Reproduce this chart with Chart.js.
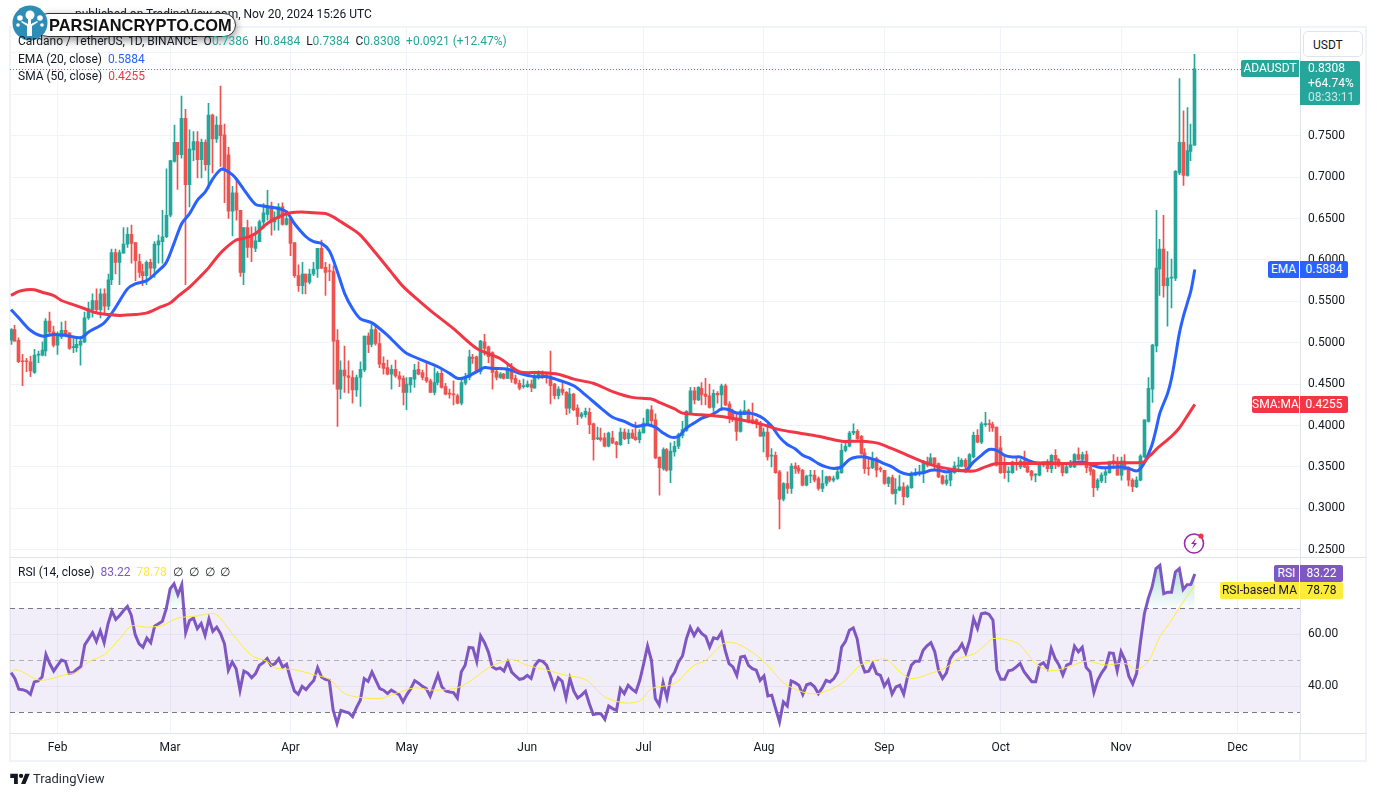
<!DOCTYPE html>
<html>
<head>
<meta charset="utf-8">
<title>ADAUSDT</title>
<script src="https://cdn.jsdelivr.net/npm/chart.js@4"></script>
<style>
  html, body { margin: 0; padding: 0; background: #fff; }
  body { width: 1377px; height: 796px; position: relative; overflow: hidden; font-family: Roboto, sans-serif; font-size: 12px; color: #131722; }
  canvas { position: absolute; left: 0; top: 0; }
  .t { position: absolute; white-space: pre; line-height: 17px; }
  .tag { position: absolute; height: 17px; line-height: 17px; color: #fff; white-space: pre; text-align: center; }
  #frame { position: absolute; left: 9px; top: 26px; width: 1354px; height: 732px; border: 2px solid #f0f3fa; }
  #usdt { position: absolute; left: 1303px; top: 31px; width: 60px; height: 26px; line-height: 26px; border: 1px solid #e0e3eb; border-radius: 5px; box-sizing: border-box; padding-left: 9px; background: #fff; }
  #pill { position: absolute; left: 36px; top: 13px; width: 200px; height: 24px; line-height: 23px; background: #fff; border: 1px solid #333; border-radius: 12px; box-sizing: border-box; padding-left: 12px; font-family: "Liberation Sans", sans-serif; font-size: 16.4px; font-weight: bold; color: #111; white-space: pre; box-shadow: 0 3px 9px rgba(0,0,0,.45); }
</style>
</head>
<body>
<div id="frame"></div>
<canvas id="adaChart" width="1377" height="796"></canvas>

<div class="t" style="left:75px;top:6px;color:#131722">published on TradingView.com, Nov 20, 2024 15:26 UTC</div>
<div id="pill">PARSIANCRYPTO.COM</div>
<svg style="position:absolute;left:12px;top:5px" width="36" height="36" viewBox="0 0 36 36">
  <circle cx="18" cy="18" r="17.5" fill="#2e8db5"/>
  <path d="M15 31V21l-6-4 1-1 6 3 0-6h3l0 6 6-3 1 1-6 4v10z" fill="#fff"/>
  <circle cx="18" cy="10" r="4.5" fill="#fff"/><circle cx="8" cy="13" r="2.8" fill="#fff"/><circle cx="28" cy="13" r="2.8" fill="#fff"/><circle cx="6" cy="20" r="1.8" fill="#fff"/><circle cx="30" cy="20" r="1.8" fill="#fff"/>
</svg>

<div class="t" style="left:18px;top:33px">Cardano / TetherUS, 1D, BINANCE  O<span style="color:#26a69a">0.7386</span>  H<span style="color:#26a69a">0.8484</span>  L<span style="color:#26a69a">0.7384</span>  C<span style="color:#26a69a">0.8308  +0.0921 (+12.47%)</span></div>
<div class="t" style="left:18px;top:51px">EMA (20, close)  <span style="color:#2962ff">0.5884</span></div>
<div class="t" style="left:18px;top:68px">SMA (50, close)  <span style="color:#f23645">0.4255</span></div>
<div class="t" style="left:18px;top:564px">RSI (14, close)  <span style="color:#7e57c2">83.22</span>  <span style="color:#ffeb3b">78.78</span>  ∅  ∅  ∅  ∅</div>

<div id="usdt">USDT</div>
<div class="tag" style="left:1241px;top:60px;width:58px;background:#26a69a;border-radius:2px 0 0 2px">ADAUSDT</div>
<div class="tag" style="left:1300px;top:61px;width:60px;height:44px;background:#26a69a;text-align:left;padding-left:8px;box-sizing:border-box;line-height:14.5px;border-radius:0 2px 2px 0">0.8308
+64.74%
<span style="color:#c8e8e4">08:33:11</span></div>
<div class="tag" style="left:1268px;top:261px;width:31px;background:#2962ff;border-radius:2px 0 0 2px">EMA</div>
<div class="tag" style="left:1300px;top:261px;width:48px;background:#2962ff;border-radius:0 2px 2px 0">0.5884</div>
<div class="tag" style="left:1252px;top:396px;width:47px;background:#f23645;border-radius:2px 0 0 2px">SMA:MA</div>
<div class="tag" style="left:1300px;top:396px;width:48px;background:#f23645;border-radius:0 2px 2px 0">0.4255</div>
<div class="tag" style="left:1274px;top:565px;width:25px;background:#7e57c2;border-radius:2px 0 0 2px">RSI</div>
<div class="tag" style="left:1300px;top:565px;width:43px;background:#7e57c2;border-radius:0 2px 2px 0">83.22</div>
<div class="tag" style="left:1220px;top:582px;width:79px;background:#ffeb3b;color:#131722;border-radius:2px 0 0 2px">RSI-based MA</div>
<div class="tag" style="left:1300px;top:582px;width:43px;background:#ffeb3b;color:#131722;border-radius:0 2px 2px 0">78.78</div>

<svg style="position:absolute;left:1182px;top:531px" width="26" height="26" viewBox="0 0 26 26">
  <circle cx="12" cy="12.5" r="9.5" fill="#fff" stroke="#9c27b0" stroke-width="1.6"/>
  <path d="M14 7l-5 6h3l-2 5 5-6h-3z" fill="#9c27b0"/>
  <circle cx="19" cy="5" r="2.6" fill="#f23645"/>
</svg>

<svg style="position:absolute;left:10px;top:772px" width="20" height="13" viewBox="0 0 36 24" fill="#131722">
  <path d="M14 22H7V11H0V3h14zM28 22h-8l7.5-19H36z"/><circle cx="20" cy="7" r="4"/>
</svg>
<div class="t" style="left:33px;top:770px;font-size:13px;color:#2a2e39">TradingView</div>

<script>
// daily candles, index 0 = Jan 20 2024, last = Nov 20 2024
const opens = [
  .503,.516,.503,.478,.478,.477,.464,.485,.485,.490,
  .526,.513,.497,.507,.515,.512,.494,.494,.497,.501,
  .530,.540,.551,.540,.559,.544,.576,.609,.597,.608,
  .619,.631,.621,.598,.586,.581,.597,.590,.618,.622,
  .628,.654,.719,.742,.727,.771,.691,.733,.743,.721,
  .742,.715,.775,.746,.763,.751,.727,.659,.681,.660,
  .585,.639,.628,.614,.622,.646,.655,.665,.646,.650,
  .664,.643,.650,.621,.581,.569,.583,.573,.583,.589,
  .614,.591,.587,.586,.503,.444,.467,.460,.458,.443,
  .458,.467,.508,.498,.516,.499,.475,.470,.462,.468,
  .460,.457,.440,.449,.456,.468,.464,.458,.454,.440,
  .452,.463,.447,.439,.438,.436,.427,.451,.458,.482,
  .483,.465,.501,.495,.488,.465,.458,.462,.457,.468,
  .457,.451,.447,.447,.450,.445,.458,.462,.461,.460,
  .450,.436,.444,.440,.421,.438,.421,.411,.413,.416,
  .402,.384,.385,.385,.375,.385,.380,.377,.392,.384,
  .391,.386,.383,.391,.402,.419,.407,.362,.348,.371,
  .346,.368,.375,.388,.394,.413,.442,.431,.445,.438,
  .436,.422,.439,.437,.448,.426,.416,.409,.393,.413,
  .418,.407,.407,.403,.387,.392,.363,.364,.344,.311,
  .330,.324,.351,.349,.346,.328,.339,.340,.336,.324,
  .330,.338,.334,.336,.343,.370,.375,.391,.393,.387,
  .367,.349,.349,.360,.348,.346,.330,.337,.318,.322,
  .326,.314,.325,.340,.342,.342,.356,.352,.361,.354,
  .339,.330,.334,.343,.351,.351,.358,.350,.362,.388,
  .380,.401,.402,.401,.398,.373,.354,.343,.343,.355,
  .350,.357,.351,.345,.340,.340,.352,.354,.348,.364,
  .359,.352,.343,.350,.350,.365,.359,.365,.350,.346,
  .325,.333,.340,.343,.357,.356,.340,.357,.349,.334,
  .326,.334,.362,.405,.444,.496,.589,.613,.569,.578,
  .578,.705,.742,.702,.731,.7386
];
const highs = [
  .517,.521,.506,.486,.481,.484,.492,.490,.501,.529,
  .537,.520,.513,.525,.526,.512,.505,.505,.507,.537,
  .549,.559,.565,.565,.565,.583,.613,.613,.612,.639,
  .639,.642,.621,.607,.595,.599,.601,.622,.630,.660,
  .710,.720,.763,.742,.798,.782,.757,.755,.755,.746,
  .745,.789,.776,.773,.810,.764,.736,.689,.699,.660,
  .639,.648,.640,.640,.648,.668,.684,.670,.658,.668,
  .669,.654,.650,.621,.594,.597,.583,.589,.597,.614,
  .624,.597,.595,.593,.516,.478,.496,.478,.466,.461,
  .477,.508,.512,.522,.521,.512,.483,.479,.473,.479,
  .465,.460,.458,.458,.474,.477,.467,.475,.456,.470,
  .465,.469,.451,.444,.454,.438,.455,.463,.491,.486,
  .484,.503,.510,.496,.489,.469,.464,.463,.474,.475,
  .461,.455,.456,.454,.455,.463,.466,.466,.462,.490,
  .451,.447,.451,.441,.445,.439,.425,.416,.421,.421,
  .403,.398,.397,.391,.392,.393,.381,.397,.396,.395,
  .395,.404,.395,.409,.420,.424,.414,.362,.373,.372,
  .379,.381,.391,.405,.418,.446,.446,.447,.452,.457,
  .450,.443,.441,.450,.450,.429,.420,.415,.419,.430,
  .420,.427,.408,.405,.397,.402,.372,.368,.346,.331,
  .344,.354,.355,.352,.347,.340,.346,.346,.338,.346,
  .339,.339,.339,.350,.378,.379,.393,.402,.395,.388,
  .372,.360,.368,.362,.350,.346,.338,.340,.336,.340,
  .331,.328,.344,.348,.352,.358,.362,.366,.361,.355,
  .340,.340,.344,.356,.362,.360,.360,.366,.392,.395,
  .404,.416,.407,.404,.398,.387,.363,.350,.357,.361,
  .359,.369,.356,.346,.342,.354,.356,.359,.365,.371,
  .360,.354,.352,.358,.366,.373,.368,.369,.352,.347,
  .336,.343,.348,.357,.365,.362,.362,.365,.350,.336,
  .338,.365,.407,.458,.498,.660,.625,.654,.610,.601,
  .708,.819,.780,.784,.764,.8484
];
const lows = [
  .498,.502,.476,.448,.465,.459,.463,.476,.484,.484,
  .511,.495,.486,.505,.507,.492,.488,.489,.473,.500,
  .528,.531,.535,.530,.535,.540,.570,.583,.570,.608,
  .615,.596,.575,.579,.569,.570,.579,.579,.596,.596,
  .627,.652,.718,.685,.723,.570,.664,.720,.699,.699,
  .708,.686,.705,.742,.713,.669,.650,.629,.648,.580,
  .570,.603,.598,.610,.622,.638,.648,.630,.636,.636,
  .642,.642,.605,.579,.562,.559,.559,.571,.581,.579,
  .589,.557,.575,.450,.399,.432,.440,.439,.427,.435,
  .423,.465,.488,.495,.497,.470,.462,.461,.444,.458,
  .447,.425,.419,.440,.446,.461,.455,.452,.440,.437,
  .449,.445,.437,.433,.425,.426,.425,.449,.455,.475,
  .464,.462,.485,.476,.444,.455,.457,.456,.457,.452,
  .450,.443,.445,.446,.441,.445,.456,.457,.451,.426,
  .432,.432,.437,.413,.415,.418,.401,.409,.410,.390,
  .358,.383,.381,.374,.374,.378,.361,.376,.383,.378,
  .384,.382,.379,.391,.402,.401,.360,.316,.346,.345,
  .331,.363,.372,.385,.393,.413,.426,.430,.425,.425,
  .421,.417,.427,.418,.424,.403,.405,.382,.392,.413,
  .403,.402,.397,.387,.368,.358,.350,.342,.275,.309,
  .318,.318,.342,.342,.327,.327,.331,.332,.322,.320,
  .327,.332,.332,.335,.342,.368,.374,.389,.383,.365,
  .342,.340,.348,.338,.344,.329,.326,.317,.305,.321,
  .304,.313,.324,.339,.339,.331,.350,.352,.347,.337,
  .329,.328,.327,.342,.344,.350,.343,.346,.361,.379,
  .378,.399,.393,.393,.351,.342,.336,.332,.342,.346,
  .348,.349,.343,.334,.332,.339,.350,.344,.343,.348,
  .350,.339,.342,.349,.349,.358,.355,.343,.340,.314,
  .322,.331,.331,.342,.348,.340,.334,.346,.327,.320,
  .325,.333,.361,.404,.428,.489,.557,.555,.520,.542,
  .575,.703,.690,.701,.720,.7384
];
const closes = [
  .516,.502,.477,.477,.477,.466,.485,.486,.491,.526,
  .513,.497,.509,.515,.511,.493,.495,.498,.502,.530,
  .541,.551,.540,.559,.544,.576,.609,.597,.609,.619,
  .631,.620,.599,.585,.581,.597,.590,.619,.623,.628,
  .654,.720,.742,.727,.771,.691,.734,.743,.721,.742,
  .715,.775,.746,.763,.750,.709,.659,.681,.660,.585,
  .639,.615,.615,.623,.646,.657,.665,.646,.651,.664,
  .643,.650,.620,.581,.569,.583,.573,.583,.589,.614,
  .590,.585,.586,.502,.444,.467,.460,.458,.443,.458,
  .468,.508,.498,.516,.499,.474,.469,.462,.468,.460,
  .456,.440,.450,.458,.467,.462,.458,.454,.440,.452,
  .463,.446,.438,.438,.437,.427,.452,.458,.483,.481,
  .465,.502,.493,.483,.464,.458,.462,.457,.468,.456,
  .451,.445,.448,.450,.446,.460,.462,.461,.460,.448,
  .436,.444,.440,.421,.438,.419,.411,.414,.417,.401,
  .383,.385,.383,.375,.391,.379,.377,.392,.384,.391,
  .385,.383,.392,.403,.419,.406,.361,.349,.371,.346,
  .369,.375,.389,.395,.417,.442,.431,.446,.437,.435,
  .422,.439,.437,.448,.425,.409,.407,.393,.417,.418,
  .406,.406,.403,.387,.392,.362,.364,.343,.311,.330,
  .324,.351,.348,.345,.328,.339,.340,.334,.324,.330,
  .338,.334,.336,.344,.370,.375,.391,.393,.384,.366,
  .348,.348,.360,.346,.347,.330,.337,.318,.323,.326,
  .314,.326,.342,.343,.344,.356,.352,.361,.354,.338,
  .330,.334,.344,.351,.352,.358,.350,.365,.388,.380,
  .402,.402,.401,.397,.352,.343,.343,.345,.356,.354,
  .357,.350,.344,.339,.341,.353,.354,.348,.364,.358,
  .351,.343,.350,.354,.365,.359,.365,.349,.345,.325,
  .334,.340,.344,.356,.356,.340,.357,.347,.334,.326,
  .334,.363,.407,.445,.497,.590,.613,.569,.578,.579,
  .707,.742,.702,.732,.739,.8308
];

// moving averages at these day indexes
const emaDays = [0,2,5,8,11,14,18,20,24,27,30,32,35,38,40,42,44,46,48,50,52,54,55,57,58,60,63,65,69,71,73,76,78,80,82,84,86,88,90,93,97,100,102,107,110,113,115,117,120,122,124,128,131,135,138,141,145,148,152,155,158,161,164,166,168,170,172,174,176,178,180,182,183,185,187,190,192,194,196,198,200,202,204,206,208,210,212,214,216,218,220,223,225,227,229,231,233,235,237,239,241,243,246,248,250,252,254,256,258,260,262,264,268,272,276,278,280,282,286,288,290,291,292,293,294,295,296,298,299,300,301,302,303,304,305];
const emaValues = [.540,.530,.515,.508,.510,.509,.506,.513,.524,.543,.565,.571,.575,.587,.597,.620,.644,.656,.672,.682,.698,.709,.709,.703,.698,.685,.667,.665,.662,.658,.644,.628,.622,.620,.611,.587,.559,.541,.529,.524,.509,.495,.487,.477,.471,.463,.457,.458,.465,.470,.469,.468,.463,.459,.459,.455,.448,.437,.421,.410,.405,.399,.401,.398,.391,.386,.387,.397,.403,.409,.412,.417,.420,.419,.415,.415,.413,.408,.399,.386,.377,.372,.364,.360,.354,.350,.348,.350,.359,.362,.362,.358,.354,.350,.344,.341,.342,.343,.346,.346,.344,.346,.346,.356,.364,.371,.370,.364,.362,.362,.358,.355,.355,.354,.356,.353,.350,.349,.350,.348,.345,.348,.355,.365,.377,.395,.415,.439,.457,.483,.511,.531,.547,.563,.5884];
const smaDays = [0,2,4,6,8,11,13,16,19,22,25,28,32,35,38,41,43,46,49,51,53,55,58,60,63,66,69,72,75,78,81,83,85,87,90,94,98,101,105,108,114,120,126,131,136,141,145,150,155,160,165,167,171,173,178,183,188,193,198,203,208,214,219,223,227,231,235,239,244,248,251,254,258,264,272,278,284,290,292,293,294,295,297,299,301,303,305];
const smaValues = [.557,.562,.564,.564,.561,.557,.551,.546,.541,.536,.534,.533,.534,.536,.542,.548,.556,.567,.581,.591,.603,.613,.624,.626,.632,.644,.652,.657,.658,.657,.656,.652,.646,.640,.630,.608,.585,.568,.551,.539,.517,.493,.481,.465,.464,.462,.456,.451,.441,.434,.432,.428,.420,.415,.413,.411,.407,.402,.395,.391,.387,.381,.381,.379,.372,.364,.356,.350,.346,.345,.350,.354,.354,.354,.354,.354,.355,.355,.356,.362,.366,.371,.379,.387,.397,.411,.4255];

const rsiValues = [
  45.2,42.9,38.8,38.6,38.1,36.8,41.6,42,43.5,52.2,
  48.6,45.8,48,50,49.5,44.9,45.2,46.5,47.6,55.9,
  58.2,60.6,57.2,61.3,56.7,64,68.9,65.7,67.2,69.1,
  70.7,67.2,59.8,56.3,55,58.5,56.7,63.1,64,65,
  69.8,77.5,79.4,75.2,79.1,60.6,65.3,66.2,62.1,64.1,
  59.5,65.9,61.1,62.7,60.2,56.3,46.1,49.3,46.7,38.4,
  45.8,45,43.2,44.8,48,49,50.6,48,48.6,50.6,
  47.3,48.4,42.9,38.1,36.8,39.9,38.6,40.5,42.1,47.1,
  43.5,42.6,42.2,30.7,25.6,30.6,30.1,29.7,28.2,31.7,
  34.5,42.9,41.8,45.4,42.2,39,38.4,37.1,38.4,37.5,
  36.7,33.9,36.7,39,42.1,41.1,39.9,39,36.1,40.3,
  44.4,39.7,38.1,37.7,37.5,35.4,45.4,48,54.9,54.7,
  49.5,59.3,56.7,53.1,47.4,46.5,47,45.8,49.3,45.4,
  43.9,42.6,42.9,44.1,42.9,48,49.9,49.5,48,43.9,
  39.3,43.2,41.8,35.4,42.9,38,35.4,36.5,38,33.2,
  29,29.3,29.3,27.2,32.3,31.3,30.6,39,37.1,40.3,
  38.8,37.7,42.2,48.6,55.4,49.9,35.2,32.7,41.3,35.6,
  43.2,45.4,49.3,51.6,58.2,62.6,59.5,62.1,60.2,59.1,
  55,58.6,58.2,60.6,53.8,48.6,47.4,44.1,51.2,51.5,
  48,46.7,46.1,42.2,43.9,36.2,36.5,31.3,26.2,33.9,
  32.3,42,41.3,40.3,36.7,40.5,41,39.7,37.1,39.3,
  42.2,41.6,42.9,45.4,55,57.2,61.5,62.4,58.2,49.3,
  45.4,45.7,48.6,44.8,44.1,40,42.3,36.9,39.7,40.3,
  36.9,43.6,48.1,49.6,49.6,53.8,55.5,56.7,53.2,45.9,
  42.9,45.1,50.6,52.9,53.8,56.2,52.8,57.7,66,62.2,
  67.9,68.2,67.6,65.4,46.2,42.6,42.6,45.9,46.2,47.4,
  48.7,45.5,43.6,41.7,41.7,48.1,49,46.8,54.5,50.6,
  48.1,44.2,48.1,48.7,55.4,53.2,54.9,47.2,45.5,37.6,
  42.3,45.1,47.2,52.8,52.6,45.9,53.2,50,43.8,40.8,
  44.9,57,67.9,73.7,78.2,85.3,86.5,75.6,76.2,76.2,
  84,85.3,77.2,79.1,79.2,83.22
];
const rsiMaDays = [0,1,3,6,8,11,14,17,20,24,28,31,35,39,43,48,51,53,57,62,66,68,73,78,82,86,90,95,99,104,109,115,119,123,129,133,138,143,148,153,158,162,165,171,176,179,184,188,194,199,204,208,214,219,224,226,229,232,237,241,244,248,251,253,257,260,264,268,273,277,282,287,290,293,296,299,302,305];
const rsiMaValues = [45.4,46.3,45.4,42.9,42.2,43.1,44.4,45.4,49.3,52.1,58.2,63.1,62.7,63.4,66.2,67,67.9,67.5,60.2,51.8,49.5,47,46.3,44.4,42.6,37.1,35.6,35.2,37.1,39.3,38.4,39.3,42.6,47,50.2,48,46.2,44.1,42.5,35.8,33.5,34.3,39,41,48,49.9,56.7,55.7,49.5,41.3,37.7,37.1,41,48.2,50.3,50,45.5,42.9,44.9,47.2,50.6,52.3,55.8,58.3,57.7,55.8,48.7,45.9,47.7,49.6,48.1,48.7,46.4,49.4,59,65.4,72.4,78.78];

// axis ticks
const monthDays = [12,41,72,102,133,163,194,225,255,286,316];
const monthLabels = ['Feb','Mar','Apr','May','Jun','Jul','Aug','Sep','Oct','Nov','Dec'];
const priceTicks = [.25,.30,.35,.40,.45,.50,.55,.60,.65,.70,.75,.80,.85];
const rsiTicks = [40,60,80];

const UP = '#26a69a', DOWN = '#ef5350', GRID = '#f0f3fa';
const FONT = 'Roboto, sans-serif';

const pts = (days, vals) => days.map((d, i) => ({ x: d, y: vals[i] }));
const candleColors = closes.map((c, i) => c >= opens[i] ? UP : DOWN);

const canvas = document.getElementById('adaChart');
const ctx = canvas.getContext('2d');

const obFill = ctx.createLinearGradient(0, 565, 0, 608);
obFill.addColorStop(0, 'rgba(38,166,154,.38)');
obFill.addColorStop(1, 'rgba(38,166,154,.03)');

// RSI band + guide lines + last price line
const paneDecor = {
  id: 'paneDecor',
  // keep candles on whole pixels so the wicks stay sharp
  afterDatasetsUpdate(chart) {
    chart.getSortedVisibleDatasetMetas().forEach(meta => {
      if (meta.type === 'bar') meta.data.forEach(el => { el.x = Math.round(el.x - .5) + .5; });
    });
  },
  beforeDatasetsDraw(chart) {
    const { ctx, chartArea: a, scales } = chart;
    const rsi = scales.rsi;
    ctx.save();
    ctx.fillStyle = 'rgba(126,87,194,.1)';
    ctx.fillRect(a.left, rsi.getPixelForValue(70), a.width, rsi.getPixelForValue(30) - rsi.getPixelForValue(70));
    ctx.lineWidth = 1;
    ctx.setLineDash([5, 4]);
    [[70, '#787b86'], [50, 'rgba(120,123,134,.55)'], [30, '#787b86']].forEach(([v, col]) => {
      const y = Math.round(rsi.getPixelForValue(v)) + .5;
      ctx.strokeStyle = col;
      ctx.beginPath(); ctx.moveTo(a.left, y); ctx.lineTo(a.right, y); ctx.stroke();
    });
    const py = Math.round(scales.y.getPixelForValue(closes[closes.length - 1])) + .5;
    ctx.setLineDash([1, 2]);
    ctx.strokeStyle = UP;
    ctx.beginPath(); ctx.moveTo(a.left, py); ctx.lineTo(a.right, py); ctx.stroke();
    ctx.restore();
  },
  afterDraw(chart) {
    const { ctx, chartArea: a, scales } = chart;
    const y = Math.round(scales.rsi.top) + .5;
    ctx.save();
    ctx.strokeStyle = '#e0e3eb';
    ctx.lineWidth = 1;
    ctx.beginPath();
    ctx.moveTo(a.left, y); ctx.lineTo(1366, y);
    ctx.moveTo(a.right, a.bottom + .5); ctx.lineTo(1366, a.bottom + .5);
    ctx.moveTo(a.right, a.bottom); ctx.lineTo(a.right, 760);
    ctx.stroke();
    ctx.restore();
  }
};

new Chart(ctx, {
  type: 'bar',
  data: {
    datasets: [
      { type: 'line', label: 'EMA', data: pts(emaDays, emaValues), yAxisID: 'y', borderColor: '#2962ff', borderWidth: 3, pointRadius: 0, tension: .3, order: 2 },
      { type: 'line', label: 'SMA', data: pts(smaDays, smaValues), yAxisID: 'y', borderColor: '#f23645', borderWidth: 3, pointRadius: 0, tension: .3, order: 1 },
      { type: 'bar', label: 'wick', data: lows.map((l, i) => ({ x: i, y: [l, highs[i]] })), yAxisID: 'y', backgroundColor: candleColors, barThickness: 1, grouped: false, order: 6 },
      { type: 'bar', label: 'body', data: opens.map((o, i) => ({ x: i, y: [Math.min(o, closes[i]), Math.max(o, closes[i])] })), yAxisID: 'y', backgroundColor: candleColors, barThickness: 3, minBarLength: 1, grouped: false, order: 5 },
      { type: 'line', label: 'RSI', data: rsiValues.map((v, i) => ({ x: i, y: v })), yAxisID: 'rsi', borderColor: '#7e57c2', borderWidth: 3, pointRadius: 0, tension: 0,
        fill: { value: 70, above: obFill, below: 'rgba(0,0,0,0)' }, order: 4 },
      { type: 'line', label: 'RSI MA', data: pts(rsiMaDays, rsiMaValues), yAxisID: 'rsi', borderColor: '#ffeb3b', borderWidth: 1, pointRadius: 0, tension: .3, order: 3 }
    ]
  },
  options: {
    responsive: false,
    animation: false,
    layout: { padding: { left: 10, right: 11, top: 28, bottom: 35 } },
    plugins: { legend: { display: false }, tooltip: { enabled: false } },
    scales: {
      x: {
        type: 'linear',
        min: -0.26,
        max: 332.1,
        offset: false,
        grid: { color: GRID, offset: false, drawTicks: false },
        border: { color: '#e0e3eb' },
        afterBuildTicks: s => { s.ticks = monthDays.map(v => ({ value: v })); },
        afterFit: s => { s.height = 28; },
        ticks: {
          autoSkip: false, maxRotation: 0, padding: 8, color: '#131722',
          font: { family: FONT, size: 12 },
          callback: v => monthLabels[monthDays.indexOf(v)]
        }
      },
      y: {
        position: 'right',
        stack: 'panes',
        stackWeight: 3,
        min: 0.2415,
        max: 0.8801,
        grid: { color: GRID, drawTicks: false },
        border: { color: '#e0e3eb' },
        afterBuildTicks: s => { s.ticks = priceTicks.map(v => ({ value: v })); },
        afterFit: s => { s.width = 66; },
        ticks: {
          autoSkip: false, padding: 8, color: '#131722',
          font: { family: FONT, size: 12 },
          callback: v => v > .76 ? '' : Number(v).toFixed(4)
        }
      },
      rsi: {
        position: 'right',
        stack: 'panes',
        stackWeight: 1,
        min: 21.9,
        max: 89.85,
        grid: { color: GRID, drawTicks: false },
        border: { color: '#e0e3eb' },
        afterBuildTicks: s => { s.ticks = rsiTicks.map(v => ({ value: v })); },
        afterFit: s => { s.width = 66; },
        ticks: {
          autoSkip: false, padding: 8, color: '#131722',
          font: { family: FONT, size: 12 },
          callback: v => v === 80 ? '' : Number(v).toFixed(2)
        }
      }
    }
  },
  plugins: [paneDecor]
});
</script>
</body>
</html>
